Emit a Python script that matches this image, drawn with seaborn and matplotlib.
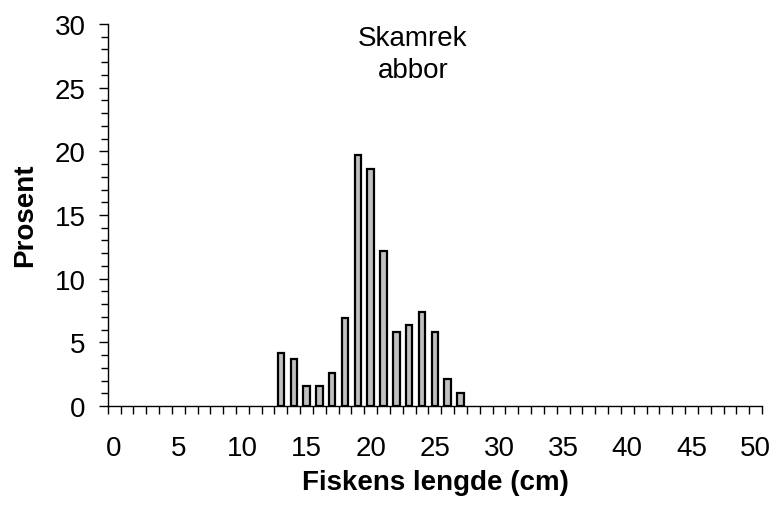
import matplotlib
matplotlib.use("Agg")
import matplotlib.pyplot as plt
import seaborn as sns
import pandas as pd
import numpy as np

lengths = [13, 14, 15, 16, 17, 18, 19, 20, 21, 22, 23, 24, 25, 26, 27]
percent = [4.2, 3.7, 1.6, 1.6, 2.6, 6.9, 19.7, 18.6, 12.2, 5.8, 6.4, 7.4, 5.8, 2.1, 1.0]
x_tick_labels = [0, 5, 10, 15, 20, 25, 30, 35, 40, 45, 50]
y_tick_labels = [0, 5, 10, 15, 20, 25, 30]
title_text = "Skamrek\nabbor"
xlabel_text = "Fiskens lengde (cm)"
ylabel_text = "Prosent"

sns.set_style("white")
plt.rcParams['font.family'] = ['Liberation Sans', 'DejaVu Sans']
plt.rcParams['text.color'] = 'black'
plt.rcParams['xtick.color'] = 'black'
plt.rcParams['ytick.color'] = 'black'
plt.rcParams['axes.labelcolor'] = 'black'

df = pd.DataFrame({"lengde": lengths, "prosent": percent})

fig = plt.figure(figsize=(7.72, 5.10), dpi=100)
ax = fig.add_axes([107.7 / 772, 1 - 407 / 510, (762 - 107.7) / 772, (407 - 25) / 510])

sns.barplot(data=df, x="lengde", y="prosent", native_scale=True, width=0.5,
            color="#c0c0c0", edgecolor="black", linewidth=1.6, saturation=1,
            ax=ax, errorbar=None)

ax.set_xlim(-0.5, 50.5)
ax.set_ylim(0, 30)

# x: labels at category centres, tick marks at category boundaries
ax.set_xticks(x_tick_labels)
ax.set_xticklabels([str(v) for v in x_tick_labels], fontsize=20)
ax.set_xticks(np.arange(-0.5, 51, 1), minor=True)
ax.tick_params(axis="x", which="major", bottom=True, length=0, pad=21)
ax.tick_params(axis="x", which="minor", bottom=True, length=6, width=1, direction="out", color="black")

ax.set_yticks(y_tick_labels)
ax.set_yticklabels([str(v) for v in y_tick_labels], fontsize=20)
ax.set_yticks(np.arange(0, 31, 1), minor=True)
ax.tick_params(axis="y", which="major", left=True, length=6.8, width=1, direction="out", color="black", pad=9)
ax.tick_params(axis="y", which="minor", left=True, length=4.8, width=1, direction="out", color="black")

for side in ["top", "right"]:
    ax.spines[side].set_visible(False)
for side in ["left", "bottom"]:
    ax.spines[side].set_color("black")
    ax.spines[side].set_linewidth(1)

ax.set_xlabel("")
ax.set_ylabel("")
fig.text(25 / 772, 1 - 215 / 510, ylabel_text, rotation=90, fontsize=20,
         fontweight="bold", ha="center", va="center")
fig.text(435 / 772, 1 - 483 / 510, xlabel_text, fontsize=20,
         fontweight="bold", ha="center", va="center")
fig.text(413 / 772, 1 - 78 / 510, title_text, fontsize=20,
         ha="center", va="baseline", linespacing=1.28, multialignment="center")

fig.savefig("out.png", dpi=100)
